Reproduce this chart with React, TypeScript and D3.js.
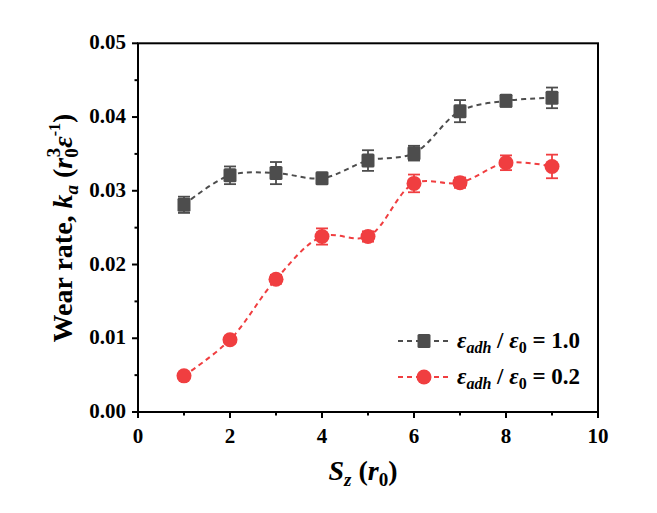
import * as d3 from "d3";

const sz = [1, 2, 3, 4, 5, 6, 7, 8, 9];
const rate10 = [0.0281, 0.0321, 0.0324, 0.0317, 0.0341, 0.0351, 0.0408, 0.0422, 0.0426];
const err10 = [0.0011, 0.0012, 0.0015, 0.0007, 0.0014, 0.001, 0.0015, 0.0008, 0.0014];
const rate02 = [0.0049, 0.0098, 0.018, 0.0238, 0.0238, 0.031, 0.0311, 0.0338, 0.0333];
const err02 = [0.0004, 0.0005, 0.0006, 0.0011, 0.0007, 0.0012, 0.0007, 0.001, 0.0016];
const xTicks = [0, 2, 4, 6, 8, 10];
const yTicks = [0, 0.01, 0.02, 0.03, 0.04, 0.05];

const W = 657;
const H = 513;
const m = { left: 138, right: 598, top: 43.3, bottom: 412 };
const GREY = "#4d4d4d";
const RED = "#f03e40";
const txt = { fontFamily: "'Times New Roman', 'Liberation Serif', serif", fontWeight: 700 } as const;

export default function App() {
  const x = d3.scaleLinear().domain([0, 10]).range([m.left, m.right]);
  const y = d3.scaleLinear().domain([0, 0.05]).range([m.bottom, m.top]);
  const line = d3
    .line<number>()
    .x((_d, i) => x(sz[i]))
    .y((d) => y(d))
    .curve(d3.curveCatmullRom.alpha(0.5));

  const xMinor = d3.range(1, 10, 2);
  const yMinor = d3.range(0.005, 0.05, 0.01);

  const series = [
    { vals: rate10, errs: err10, color: GREY, shape: "square" },
    { vals: rate02, errs: err02, color: RED, shape: "circle" },
  ];

  const marker = (shape: string, cx: number, cy: number, color: string, key?: string) =>
    shape === "square" ? (
      <rect key={key} x={cx - 6.5} y={cy - 7} width={13} height={14} rx={1.5} fill={color} />
    ) : (
      <circle key={key} cx={cx} cy={cy} r={7.5} fill={color} />
    );

  return (
    <svg width={W} height={H} style={{ position: "absolute", left: 0, top: 0 }}>
      {/* data */}
      {series.map((s, si) => (
        <g key={si}>
          <path d={line(s.vals) ?? ""} fill="none" stroke={s.color} strokeWidth={2} strokeDasharray="5,4" />
          {s.vals.map((v, i) => (
            <g key={i} stroke={s.color} strokeWidth={1.8}>
              <line x1={x(sz[i])} x2={x(sz[i])} y1={y(v - s.errs[i])} y2={y(v + s.errs[i])} />
              <line x1={x(sz[i]) - 6} x2={x(sz[i]) + 6} y1={y(v - s.errs[i])} y2={y(v - s.errs[i])} />
              <line x1={x(sz[i]) - 6} x2={x(sz[i]) + 6} y1={y(v + s.errs[i])} y2={y(v + s.errs[i])} />
            </g>
          ))}
          {s.vals.map((v, i) => marker(s.shape, x(sz[i]), y(v), s.color, `m${i}`))}
        </g>
      ))}

      {/* frame */}
      <rect
        x={m.left}
        y={m.top}
        width={m.right - m.left}
        height={m.bottom - m.top}
        fill="none"
        stroke="#000"
        strokeWidth={2}
      />

      {/* x axis */}
      {xTicks.map((t) => (
        <line key={t} x1={x(t)} x2={x(t)} y1={m.bottom} y2={m.bottom + 6} stroke="#000" strokeWidth={2} />
      ))}
      {xTicks.map((t) => (
        <text key={t} x={x(t)} y={443} textAnchor="middle" fontSize={21} style={txt}>
          {t}
        </text>
      ))}
      {xMinor.map((t) => (
        <line key={t} x1={x(t)} x2={x(t)} y1={m.bottom} y2={m.bottom + 3.5} stroke="#000" strokeWidth={2} />
      ))}

      {/* y axis */}
      {yTicks.map((t) => (
        <line key={t} x1={m.left - 6} x2={m.left} y1={y(t)} y2={y(t)} stroke="#000" strokeWidth={2} />
      ))}
      {yTicks.map((t) => (
        <text key={t} x={126} y={y(t) + 6} textAnchor="end" fontSize={21} style={txt}>
          {d3.format(".2f")(t)}
        </text>
      ))}
      {yMinor.map((t) => (
        <line key={t} x1={m.left - 3.5} x2={m.left} y1={y(t)} y2={y(t)} stroke="#000" strokeWidth={2} />
      ))}

      {/* axis titles */}
      <text x={363} y={480} textAnchor="middle" fontSize={28} style={txt}>
        <tspan fontStyle="italic">S</tspan>
        <tspan fontStyle="italic" fontSize={19} dy={6}>z</tspan>
        <tspan dy={-6}> (</tspan>
        <tspan fontStyle="italic">r</tspan>
        <tspan fontSize={19} dy={6}>0</tspan>
        <tspan dy={-6}>)</tspan>
      </text>
      <text transform="translate(72,228) rotate(-90)" textAnchor="middle" fontSize={28} style={txt}>
        <tspan>Wear rate, </tspan>
        <tspan fontStyle="italic">k</tspan>
        <tspan fontStyle="italic" fontSize={19} dy={6}>a</tspan>
        <tspan dy={-6}> (</tspan>
        <tspan fontStyle="italic">r</tspan>
        <tspan fontSize={19} dy={6}>0</tspan>
        <tspan fontSize={19} dx={-9} dy={-18}>3</tspan>
        <tspan fontStyle="italic" dy={12}>ε</tspan>
        <tspan fontSize={16} dy={-12}>-1</tspan>
        <tspan dy={12}>)</tspan>
      </text>

      {/* legend */}
      {series.map((s, si) => {
        const ly = 341 + si * 36;
        return (
          <g key={si}>
            <line x1={398} x2={450} y1={ly} y2={ly} stroke={s.color} strokeWidth={2} strokeDasharray="5,4" />
            {marker(s.shape, 424, ly, s.color)}
          </g>
        );
      })}
      {series.map((s, si) => (
        <text key={si} x={457} y={341 + si * 36 + 7} fontSize={23} style={txt}>
          <tspan fontStyle="italic">ε</tspan>
          <tspan fontStyle="italic" fontSize={16} dy={5}>adh</tspan>
          <tspan dy={-5}> / </tspan>
          <tspan fontStyle="italic">ε</tspan>
          <tspan fontSize={16} dy={5}>0</tspan>
          <tspan dy={-5}> = {si === 0 ? "1.0" : "0.2"}</tspan>
        </text>
      ))}
    </svg>
  );
}
